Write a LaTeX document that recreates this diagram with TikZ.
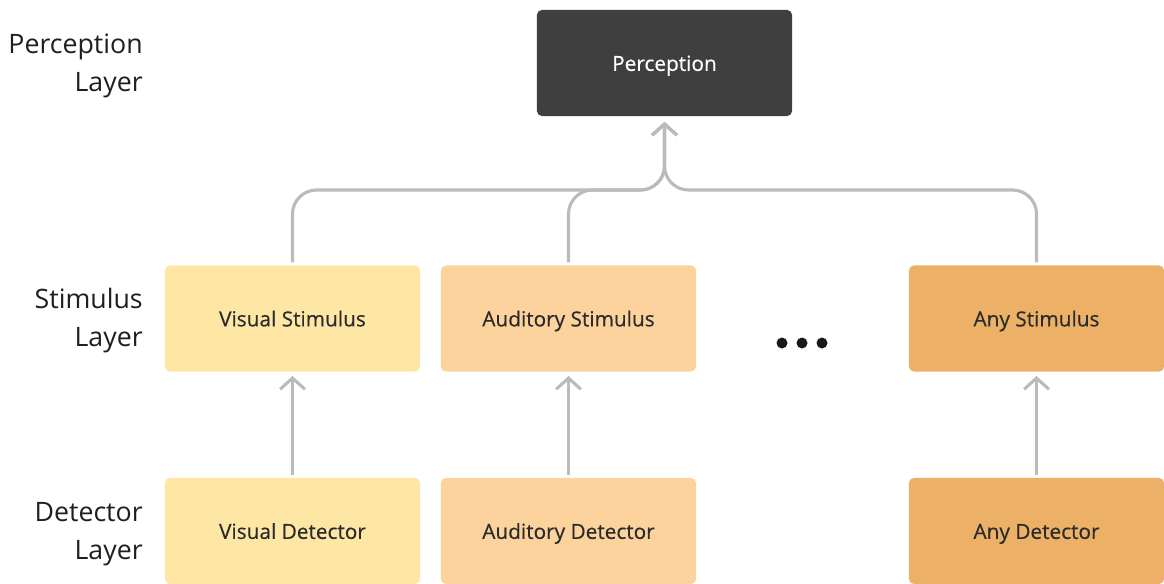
\documentclass[tikz,border=0pt]{standalone}
\usepackage{fontspec}
\setmainfont{Open Sans}
\newfontfamily\boxfont[FakeBold=0.35]{Open Sans}
\usetikzlibrary{arrows.meta,positioning}
\definecolor{percfill}{HTML}{3F3F3F}
\definecolor{visfill}{HTML}{FEE7A5}
\definecolor{audfill}{HTML}{FCD29D}
\definecolor{anyfill}{HTML}{ECB166}
\definecolor{linkgray}{HTML}{BBBBBB}
\definecolor{inkgray}{HTML}{2A2A2A}
\begin{document}
\begin{tikzpicture}[x=0.025cm,y=-0.025cm,
  box/.style={rectangle,rounded corners=3.5pt,minimum width=6.375cm,minimum height=2.65cm,
    inner sep=0,text height=14.7pt,text depth=3.5pt,text=inkgray,
    font=\boxfont\fontsize{14.8}{17}\selectfont},
  layer/.style={align=right,anchor=east,inner sep=0,text=black!88,
    font=\fontsize{19}{27}\selectfont},
  link/.style={draw=linkgray,line width=2.2pt,-{Straight Barb[length=0.28cm,width=0.62cm]}},
  merge/.style={link,rounded corners=0.6cm}]
\useasboundingbox (0,0) rectangle (1164,584);

% perception layer
\node[box,fill=percfill,text=white] (perc) at (664.5,63) {Perception};

% stimulus layer
\node[box,fill=visfill] (vstim) at (292.5,318.5) {Visual Stimulus};
\node[box,fill=audfill] (astim) at (568.5,318.5) {Auditory Stimulus};
\node[box,fill=anyfill] (anystim) at (1036.5,318.5) {Any Stimulus};

% detector layer
\node[box,fill=visfill] (vdet) at (292.5,531) {Visual Detector};
\node[box,fill=audfill] (adet) at (568.5,531) {Auditory Detector};
\node[box,fill=anyfill] (anydet) at (1036.5,531) {Any Detector};

% dots
\foreach \dx in {782,802,822}
  \fill[black!90] (\dx,343) circle (5.5);

% layer labels
\node[layer] (perclab) at (143,66) {Perception\\Layer};
\node[layer] (stimlab) at (143,321) {Stimulus\\Layer};
\node[layer] (detlab) at (143,534) {Detector\\Layer};

% detector -> stimulus
\draw[link] ([yshift=2pt]vdet.north) -- ([yshift=-3pt]vstim.south);
\draw[link] ([yshift=2pt]adet.north) -- ([yshift=-3pt]astim.south);
\draw[link] ([yshift=2pt]anydet.north) -- ([yshift=-3pt]anystim.south);

% stimulus -> perception
\coordinate (hub) at (664.5,190);
\draw[merge] ([yshift=2pt]vstim.north) |- (hub) -- ([yshift=-4pt]perc.south);
\draw[merge] ([yshift=2pt]astim.north) |- (hub) -- ([yshift=-4pt]perc.south);
\draw[merge] ([yshift=2pt]anystim.north) |- (hub) -- ([yshift=-4pt]perc.south);
\end{tikzpicture}
\end{document}
